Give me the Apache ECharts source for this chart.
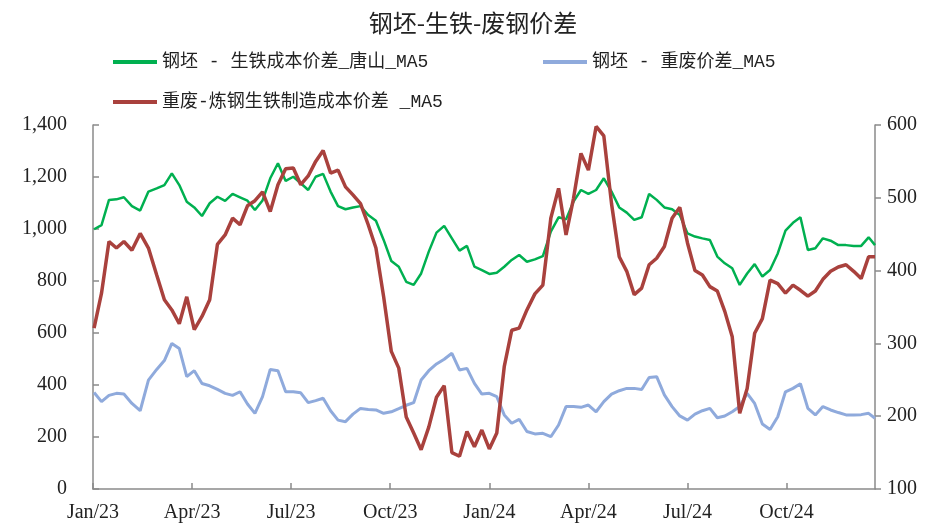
<!DOCTYPE html>
<html><head><meta charset="utf-8">
<script src="https://cdn.jsdelivr.net/npm/echarts@6/dist/echarts.min.js"></script>
<style>html,body{margin:0;padding:0;background:#fff}#c{width:926px;height:524px}</style>
</head><body><div id="c"></div>
<script>
const dates = [
'2023-01-02','2023-01-09','2023-01-16','2023-01-23','2023-01-30','2023-02-06','2023-02-13','2023-02-20','2023-02-27','2023-03-06',
'2023-03-13','2023-03-20','2023-03-27','2023-04-03','2023-04-10','2023-04-17','2023-04-24','2023-05-01','2023-05-08','2023-05-15',
'2023-05-22','2023-05-29','2023-06-05','2023-06-12','2023-06-19','2023-06-26','2023-07-03','2023-07-10','2023-07-17','2023-07-24',
'2023-07-31','2023-08-07','2023-08-14','2023-08-21','2023-08-28','2023-09-04','2023-09-11','2023-09-18','2023-09-25','2023-10-02',
'2023-10-09','2023-10-16','2023-10-23','2023-10-30','2023-11-06','2023-11-13','2023-11-20','2023-11-27','2023-12-04','2023-12-11',
'2023-12-18','2023-12-25','2024-01-01','2024-01-08','2024-01-15','2024-01-22','2024-01-29','2024-02-05','2024-02-12','2024-02-19',
'2024-02-26','2024-03-04','2024-03-11','2024-03-18','2024-03-25','2024-04-01','2024-04-08','2024-04-15','2024-04-22','2024-04-29',
'2024-05-06','2024-05-13','2024-05-20','2024-05-27','2024-06-03','2024-06-10','2024-06-17','2024-06-24','2024-07-01','2024-07-08',
'2024-07-15','2024-07-22','2024-07-29','2024-08-05','2024-08-12','2024-08-19','2024-08-26','2024-09-02','2024-09-09','2024-09-16',
'2024-09-23','2024-09-30','2024-10-07','2024-10-14','2024-10-21','2024-10-28','2024-11-04','2024-11-11','2024-11-18','2024-11-25',
'2024-12-02','2024-12-09','2024-12-16','2024-12-22'
];
// 钢坯 - 生铁成本价差_唐山_MA5 (left axis)
const billetPigIron = [
999,1015,1112,1114,1122,1088,1071,1144,1156,1169,
1214,1169,1105,1083,1050,1099,1124,1108,1135,1122,
1109,1073,1110,1195,1253,1185,1201,1176,1150,1201,
1212,1144,1088,1076,1083,1088,1054,1032,958,877,
855,797,785,829,913,986,1012,964,917,935,
855,842,827,832,855,881,900,874,883,896,
990,1045,1037,1105,1150,1135,1150,1195,1144,1083,
1063,1035,1045,1135,1112,1083,1076,1054,983,971,
964,958,894,868,849,785,829,865,817,842,
906,994,1024,1045,919,926,964,955,938,938,
935,935,968,938
];
// 钢坯 - 重废价差_MA5 (left axis)
const billetScrap = [
371,336,360,368,365,329,301,419,460,494,
560,540,432,455,406,397,383,368,360,374,
327,291,355,460,455,374,374,370,332,340,
349,301,265,259,288,310,306,304,291,297,
309,322,332,419,455,481,499,522,458,464,
406,365,368,355,285,253,268,221,212,214,
201,246,317,317,314,323,297,336,365,378,
387,387,383,429,432,362,317,281,265,288,
301,310,274,281,297,317,368,329,250,229,
278,374,387,405,310,285,317,304,294,285,
285,286,291,272
];
// 重废-炼钢生铁制造成本价差 _MA5 (right axis)
const scrapPigIron = [
321,369,440,431,440,428,451,431,394,360,
346,327,364,319,337,360,436,449,472,463,
489,496,508,481,518,540,541,518,530,550,
565,534,538,515,504,492,463,431,364,289,
266,199,177,154,185,226,242,150,145,179,
158,181,155,177,268,318,321,346,368,380,
472,513,449,499,561,538,598,585,492,419,
399,367,376,408,417,433,472,487,438,400,
394,378,372,344,309,204,238,314,334,387,
382,369,380,373,365,372,388,399,405,408,
399,389,419,419
];
const xTickLabels = ['Jan/23','Apr/23','Jul/23','Oct/23','Jan/24','Apr/24','Jul/24','Oct/24'];
const seriesNames = ['钢坯 - 生铁成本价差_唐山_MA5','钢坯 - 重废价差_MA5','重废-炼钢生铁制造成本价差 _MA5'];
const colors = ['#00B050','#8FAADC','#A9413D'];

function monthIndex(s){
  const p = s.split('-').map(Number);
  const dim = new Date(p[0], p[1], 0).getDate();
  return (p[0]-2023)*12 + (p[1]-1) + (p[2]-1)/dim;
}
const xs = dates.map(monthIndex);
const xMax = xs[xs.length-1];
const pair = arr => arr.map((v,i)=>[xs[i], v]);

const latinCjk = "'Liberation Mono','Noto Sans CJK SC'";
const axisFont = {fontFamily:"'Liberation Serif','Noto Sans CJK SC'", fontSize:20, color:'#222'};
const axisLine = {show:true, lineStyle:{color:'#8a8a8a', width:1.5}};

const chart = echarts.init(document.getElementById('c'), null, {renderer:'canvas'});
chart.setOption({
  backgroundColor:'#fff',
  animation:false,
  title:{text:'钢坯-生铁-废钢价差', left:473, top:11, textAlign:'center', padding:0,
    textStyle:{fontFamily:"'Noto Sans CJK SC'", fontSize:24, fontWeight:'normal', color:'#222'}},
  legend:[
    {data:[seriesNames[0]], left:113, top:53, padding:0, icon:'rect', itemWidth:44, itemHeight:4,
     textStyle:{fontFamily:latinCjk, fontSize:18, color:'#222'}},
    {data:[seriesNames[1]], left:543, top:53, padding:0, icon:'rect', itemWidth:44, itemHeight:4,
     textStyle:{fontFamily:latinCjk, fontSize:18, color:'#222'}},
    {data:[seriesNames[2]], left:113, top:93, padding:0, icon:'rect', itemWidth:44, itemHeight:4,
     textStyle:{fontFamily:latinCjk, fontSize:18, color:'#222'}}
  ],
  grid:{left:93, right:51, top:125, bottom:35, containLabel:false, outerBoundsMode:'none'},
  xAxis:{type:'value', min:0, max:xMax, interval:3,
    axisLine:axisLine, splitLine:{show:false},
    axisTick:{show:true, inside:true, length:6, lineStyle:{color:'#8a8a8a', width:1.5}},
    axisLabel:Object.assign({margin:14, showMaxLabel:false, formatter:function(v){
      const k = Math.round(v/3);
      return Math.abs(v - k*3) < 1e-6 && xTickLabels[k] ? xTickLabels[k] : '';
    }}, axisFont)
  },
  yAxis:[
    {type:'value', min:0, max:1400, interval:200, position:'left',
     axisLine:axisLine, splitLine:{show:false},
     axisTick:{show:true, inside:true, length:6, lineStyle:{color:'#8a8a8a', width:1.5}},
     axisLabel:Object.assign({margin:26, formatter:v=>v.toLocaleString('en-US')}, axisFont)},
    {type:'value', min:100, max:600, interval:100, position:'right',
     axisLine:axisLine, splitLine:{show:false},
     axisTick:{show:true, inside:false, length:6, lineStyle:{color:'#8a8a8a', width:1.5}},
     axisLabel:Object.assign({margin:12}, axisFont)}
  ],
  series:[
    {name:seriesNames[0], type:'line', yAxisIndex:0, data:pair(billetPigIron), showSymbol:false, symbol:'none',
     lineStyle:{color:colors[0], width:2.5}, itemStyle:{color:colors[0]}},
    {name:seriesNames[1], type:'line', yAxisIndex:0, data:pair(billetScrap), showSymbol:false, symbol:'none',
     lineStyle:{color:colors[1], width:3}, itemStyle:{color:colors[1]}},
    {name:seriesNames[2], type:'line', yAxisIndex:1, data:pair(scrapPigIron), showSymbol:false, symbol:'none',
     lineStyle:{color:colors[2], width:3.5}, itemStyle:{color:colors[2]}}
  ]
});
</script>
</body></html>
